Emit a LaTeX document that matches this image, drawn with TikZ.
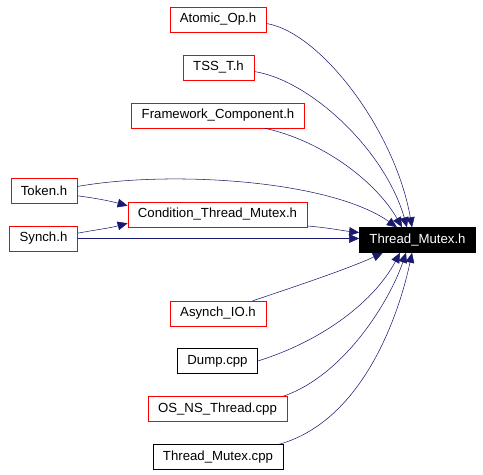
\documentclass[tikz,border=0pt]{standalone}
\usepackage{fontspec}
\setmainfont{Liberation Sans}
\usetikzlibrary{arrows.meta}
\definecolor{edgeblue}{HTML}{191970}

\begin{document}
\begin{tikzpicture}[x=0.75pt,y=-0.75pt,
  file/.style={draw=red,fill=white,inner xsep=7.5pt,minimum height=18.75pt,font=\fontsize{9.9}{11}\selectfont},
  plain/.style={file,draw=black},
  main/.style={file,draw=black,fill=black,text=white},
  dep/.style={draw=edgeblue,-{Triangle[length=7.5pt,width=6.5pt]}}]

\useasboundingbox (0,0) rectangle (483,475);

\node[file] (atomic) at (218,19.5) {Atomic\_Op.h};
\node[file] (tss) at (218.5,67.5) {TSS\_T.h};
\node[file] (framework) at (218,115.5) {Framework\_Component.h};
\node[file] (token) at (44,190.5) {Token.h};
\node[file] (cond) at (217.5,214.5) {Condition\_Thread\_Mutex.h};
\node[file] (synch) at (43.5,238.5) {Synch.h};
\node[main] (mutex) at (417.5,240) {Thread\_Mutex.h};
\node[file] (asynch) at (218,313.5) {Asynch\_IO.h};
\node[plain] (dump) at (217.5,361) {Dump.cpp};
\node[file] (osns) at (217.5,409) {OS\_NS\_Thread.cpp};
\node[plain] (mutexcpp) at (218,457) {Thread\_Mutex.cpp};

\draw[dep] ([yshift=-3pt]atomic.east) .. controls (320,32) and (395,130) .. ([xshift=-4.1pt]mutex.north);
\draw[dep] ([yshift=-3pt]tss.east) .. controls (310,80) and (385,150) .. ([xshift=-7.9pt]mutex.north);
\draw[dep] ([xshift=-30pt]framework.south east) .. controls (320,140) and (375,180) .. ([xshift=-11.6pt]mutex.north);
\draw[dep] ([yshift=3pt]token.east) .. controls (170,170) and (330,180) .. ([xshift=-15.4pt]mutex.north);
\draw[dep] ([yshift=-4pt]token.east) .. controls (95,198) and (110,201) .. ([yshift=-3pt]cond.north west);
\draw[dep] ([yshift=4pt]synch.east) .. controls (95,230) and (110,228) .. ([yshift=3pt]cond.south west);
\draw[dep] (synch.east) -- (mutex.west |- synch.east);
\draw[dep] ([yshift=1pt]cond.south east) .. controls (330,228) and (345,231) .. ([yshift=-4pt]mutex.north west);
\draw[dep] ([xshift=-10pt]asynch.north east) .. controls (300,285) and (350,268) .. ([xshift=-26pt]mutex.south);
\draw[dep] (dump.east) .. controls (325,340) and (375,300) .. ([xshift=-13.1pt]mutex.south);
\draw[dep] ([xshift=-3pt]osns.north east) .. controls (345,375) and (390,300) .. ([xshift=-8.6pt]mutex.south);
\draw[dep] ([xshift=-3pt]mutexcpp.north east) .. controls (365,420) and (400,310) .. ([xshift=-4.1pt]mutex.south);
\end{tikzpicture}
\end{document}
